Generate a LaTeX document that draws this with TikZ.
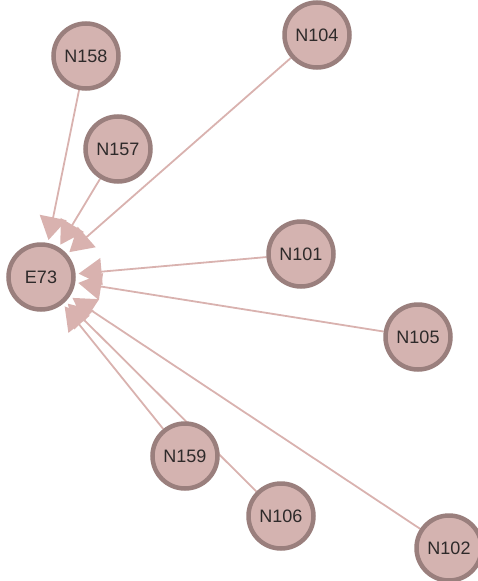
\documentclass[tikz,border=0pt]{standalone}
\usepackage{fontspec}
\setmainfont{Liberation Sans}
\usetikzlibrary{arrows.meta,backgrounds}
\definecolor{nodefill}{HTML}{D4B3B0}
\definecolor{nodeline}{HTML}{9A7F7D}
\definecolor{edgecol}{HTML}{D9B2AF}
\definecolor{labelcol}{HTML}{2E2A2A}
\tikzset{
  vertex/.style={circle, draw=nodeline, fill=nodefill, line width=4.5pt,
    minimum size=65pt, inner sep=0pt, text=labelcol,
    font=\fontsize{18}{18}\selectfont},
  link/.style={draw=edgecol, line width=1.8pt,
    -{Triangle[length=23pt,width=27pt]}, shorten >=3pt}
}
\begin{document}
\begin{tikzpicture}[x=1pt,y=-1pt]
  \useasboundingbox (0,0) rectangle (478,581);
  \node[vertex] (E73)  at (41,277)  {E73};
  \node[vertex] (N158) at (86,56)   {N158};
  \node[vertex] (N157) at (118,149) {N157};
  \node[vertex] (N104) at (317,35)  {N104};
  \node[vertex] (N101) at (301,254) {N101};
  \node[vertex] (N105) at (418,337) {N105};
  \node[vertex] (N159) at (185,456) {N159};
  \node[vertex] (N106) at (281,516) {N106};
  \node[vertex] (N102) at (449,548) {N102};
  \begin{scope}[on background layer]
    \foreach \src in {N158,N157,N104,N101,N105,N159,N106,N102}
      \draw[link] (\src) -- (E73);
  \end{scope}
\end{tikzpicture}
\end{document}
